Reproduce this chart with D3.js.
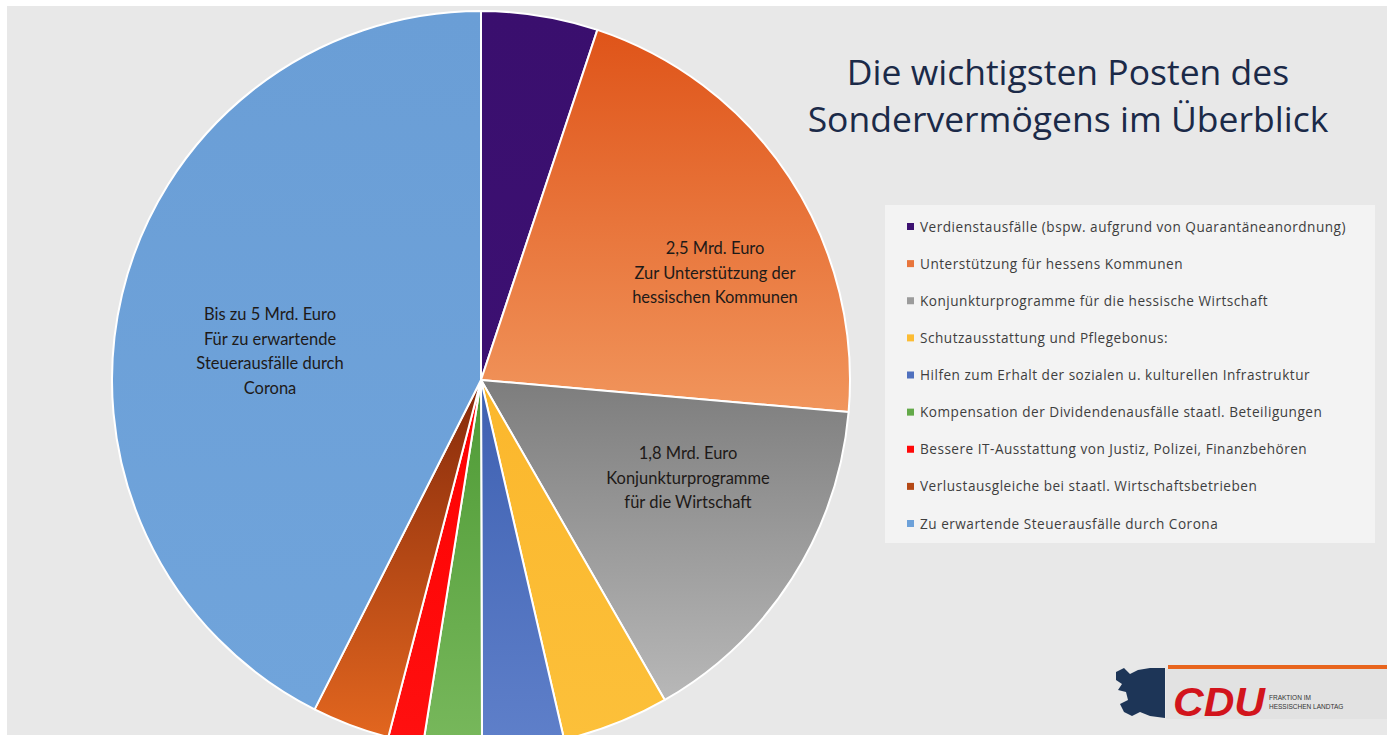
<!DOCTYPE html>
<html>
<head>
<meta charset="utf-8">
<script src="https://cdn.jsdelivr.net/npm/d3@7"></script>
<style>
  html, body { margin: 0; padding: 0; background: #ffffff; }
  svg { display: block; }
</style>
</head>
<body>
<svg id="chart"></svg>
<script>
// ---------------- DATA ----------------
const legendNames = [
  "Verdienstausfälle (bspw. aufgrund von Quarantäneanordnung)",
  "Unterstützung für hessens Kommunen",
  "Konjunkturprogramme für die hessische Wirtschaft",
  "Schutzausstattung und Pflegebonus:",
  "Hilfen zum Erhalt der sozialen u. kulturellen Infrastruktur",
  "Kompensation der Dividendenausfälle staatl. Beteiligungen",
  "Bessere IT-Ausstattung von Justiz, Polizei, Finanzbehören",
  "Verlustausgleiche bei staatl. Wirtschaftsbetrieben",
  "Zu erwartende Steuerausfälle durch Corona"
];
// Mrd. Euro (estimated for the small ones)
const amounts = [0.6, 2.5, 1.8, 0.55, 0.42, 0.3, 0.18, 0.4, 5.0];
const colorsTop = ["#3a0f6e", "#df5419", "#7d7d7d", "#fbb72c", "#3e60b1", "#4e9a35", "#fe0000", "#862a0b", "#6a9ed6"];
const colorsBottom = ["#3c1072", "#f1955c", "#b8b8b8", "#fcc03a", "#5f80ca", "#78b85c", "#ff1010", "#e2661f", "#70a4db"];
const sliceLabels = [
  null,
  ["2,5 Mrd. Euro", "Zur Unterstützung der", "hessischen Kommunen"],
  ["1,8 Mrd. Euro", "Konjunkturprogramme", "für die Wirtschaft"],
  null, null, null, null, null,
  ["Bis zu 5 Mrd. Euro", "Für zu erwartende", "Steuerausfälle durch", "Corona"]
];
const titleLines = ["Die wichtigsten Posten des", "Sondervermögens im Überblick"];

// ---------------- LAYOUT ----------------
const width = 1387, height = 735;
const cx = 481, cy = 380, radius = 369;

const svg = d3.select("#chart")
  .attr("width", width)
  .attr("height", height);

// slide background with white border top/left
svg.append("rect").attr("width", width).attr("height", height).attr("fill", "#ffffff");
svg.append("rect")
  .attr("x", 7).attr("y", 6)
  .attr("width", width - 7).attr("height", height - 6)
  .attr("fill", "#e8e8e8");

const defs = svg.append("defs");
amounts.forEach((d, i) => {
  const g = defs.append("linearGradient")
    .attr("id", "grad" + i)
    .attr("x1", 0).attr("y1", 0).attr("x2", 0).attr("y2", 1);
  g.append("stop").attr("offset", "0%").attr("stop-color", colorsTop[i]);
  g.append("stop").attr("offset", "100%").attr("stop-color", colorsBottom[i]);
});

// ---------------- PIE ----------------
const data = amounts.map((v, i) => ({ i, v }));
const pie = d3.pie().value(d => d.v).sort(null);
const arc = d3.arc().innerRadius(0).outerRadius(radius);
const arcs = pie(data);

const pieG = svg.append("g").attr("transform", `translate(${cx},${cy})`);
pieG.selectAll("path")
  .data(arcs)
  .join("path")
    .attr("d", arc)
    .attr("fill", d => `url(#grad${d.data.i})`)
    .attr("stroke", "#ffffff")
    .attr("stroke-width", 2)
    .attr("stroke-linejoin", "round");

// labels inside slices (positions relative to centre)
const labelPos = { 1: [234, -102], 2: [207, 103], 8: [-211, -24] };
arcs.forEach(a => {
  const lines = sliceLabels[a.data.i];
  if (!lines) return;
  const [x, y] = labelPos[a.data.i];
  const t = pieG.append("text")
    .attr("x", x).attr("y", y)
    .attr("text-anchor", "middle")
    .attr("font-family", "Lato, 'Open Sans', sans-serif")
    .attr("font-size", 16.5)
    .attr("fill", "#1e1a18");
  lines.forEach((ln, k) => {
    t.append("tspan")
      .attr("x", x)
      .attr("dy", k === 0 ? -(lines.length - 1) * 12 : 24.5)
      .text(ln);
  });
});

// ---------------- TITLE ----------------
svg.append("g").selectAll("text")
  .data(titleLines)
  .join("text")
    .attr("x", 1068)
    .attr("y", (d, i) => 85 + i * 47)
    .attr("text-anchor", "middle")
    .attr("font-family", "'Open Sans', sans-serif")
    .attr("font-size", 35.5)
    .attr("fill", "#1b2a48")
    .text(d => d);

// ---------------- LEGEND ----------------
const legend = svg.append("g");
legend.append("rect")
  .attr("x", 885).attr("y", 205)
  .attr("width", 490).attr("height", 338)
  .attr("fill", "#f3f3f3");

const yLegend = d3.scalePoint()
  .domain(d3.range(legendNames.length))
  .range([227, 524]);

const item = legend.selectAll("g.item")
  .data(legendNames)
  .join("g")
    .attr("class", "item")
    .attr("transform", (d, i) => `translate(0,${yLegend(i)})`);
item.append("rect")
  .attr("x", 907).attr("y", -4)
  .attr("width", 7).attr("height", 7)
  .attr("fill", (d, i) => d3.interpolateRgb(colorsTop[i], colorsBottom[i])(0.5));
item.append("text")
  .attr("x", 920).attr("y", 4.5)
  .attr("font-family", "'Open Sans', sans-serif")
  .attr("font-size", 13.6)
  .attr("letter-spacing", 0.5)
  .attr("fill", "#3e3e3e")
  .text(d => d);

// ---------------- LOGO ----------------
const logo = svg.append("g");
logo.append("rect")
  .attr("x", 1168).attr("y", 665).attr("width", 219).attr("height", 4)
  .attr("fill", "#e8651e");
logo.append("rect")
  .attr("x", 1166).attr("y", 669).attr("width", 221).attr("height", 50)
  .attr("fill", "#e2e2e2");
// rough lion silhouette
logo.append("path")
  .attr("d", "M1116,672 L1124,668 L1130,674 L1138,670 L1150,668 L1165,668 L1165,718 L1150,716 L1140,712 L1132,716 L1124,712 L1120,704 L1128,700 L1126,692 L1118,690 L1122,684 L1116,680 Z")
  .attr("fill", "#1d3557");
logo.append("text")
  .attr("x", 1173).attr("y", 716)
  .attr("font-family", "'Liberation Sans', Arial, sans-serif")
  .attr("font-weight", "bold")
  .attr("font-style", "italic")
  .attr("font-size", 40)
  .attr("textLength", 92)
  .attr("lengthAdjust", "spacingAndGlyphs")
  .attr("fill", "#d2141c")
  .text("CDU");
logo.append("text")
  .attr("x", 1269).attr("y", 700)
  .attr("font-family", "'Liberation Sans', Arial, sans-serif")
  .attr("font-size", 6.5)
  .attr("fill", "#333")
  .text("FRAKTION IM");
logo.append("text")
  .attr("x", 1269).attr("y", 709)
  .attr("font-family", "'Liberation Sans', Arial, sans-serif")
  .attr("font-size", 6.5)
  .attr("fill", "#333")
  .text("HESSISCHEN LANDTAG");
</script>
</body>
</html>
